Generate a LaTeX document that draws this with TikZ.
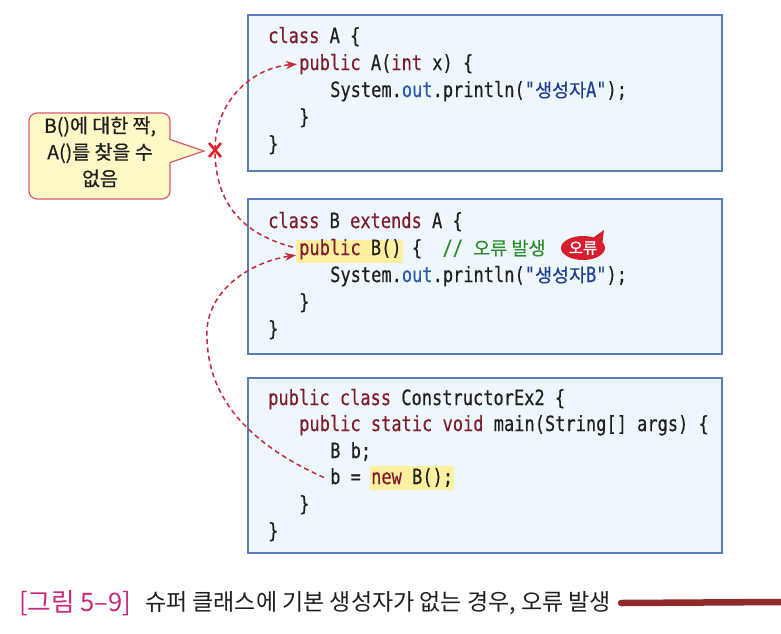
\documentclass[tikz,border=0pt]{standalone}
\usepackage{fontspec}
\usetikzlibrary{arrows.meta,shapes.geometric}
\newfontfamily\codefont[FakeStretch=0.81,FakeBold=0.35]{DejaVu Sans Mono}
\newfontfamily\krfont{Noto Sans CJK KR}
\newfontfamily\krcode[FakeBold=0.3]{Noto Sans CJK KR}
\newfontfamily\krbold[FakeBold=1.5]{Noto Sans CJK KR}
\newfontfamily\krmed[FakeBold=0.5]{Noto Sans CJK KR}
\definecolor{boxfill}{HTML}{EEF8FC}
\definecolor{boxline}{HTML}{5B7DBA}
\definecolor{kwc}{HTML}{7D1B2B}
\definecolor{outc}{HTML}{2B5BA8}
\definecolor{strc}{HTML}{1F3F8F}
\definecolor{cmtc}{HTML}{2D8A2D}
\definecolor{hlc}{HTML}{FCEFA0}
\definecolor{txtc}{HTML}{1E1E1E}
\definecolor{dashc}{HTML}{C8283C}
\definecolor{xc}{HTML}{E0202A}
\definecolor{bubfill}{HTML}{FFF9C8}
\definecolor{bubline}{HTML}{D65A78}
\definecolor{capc}{HTML}{C8287C}
\definecolor{brushc}{HTML}{8E2A2A}
\definecolor{badgec}{HTML}{D41E2E}
\newcommand\cKw[1]{\textcolor{kwc}{#1}}
\newcommand\cOut[1]{\textcolor{outc}{#1}}
\newcommand\cStr[1]{\textcolor{strc}{#1}}
\newcommand\cCmt[1]{\textcolor{cmtc}{#1}}
\newcommand\cKr[1]{{\krcode\fontsize{18.5}{20}\selectfont #1}}
\begin{document}
\begin{tikzpicture}[x=1pt,y=-1pt,
  code/.style={anchor=base west, inner sep=0pt, text=txtc,
    font=\codefont\fontsize{21}{24}\selectfont},
  codebox/.style={draw=boxline, fill=boxfill, line width=1.2pt, inner sep=0pt},
  dsh/.style={draw=dashc, line width=1.5pt, dash pattern=on 5pt off 3.5pt},
  tip/.style={-{Stealth[length=11pt,width=8pt]}},
  xmark/.style={draw=xc, line width=2.6pt},
  bubble/.style={draw=bubline, fill=bubfill, line width=1.2pt, rounded corners=8pt,
    minimum width=141pt, minimum height=86pt, inner sep=0pt},
  bubtext/.style={align=center, inner sep=0pt, text=txtc,
    font=\krmed\fontsize{19.5}{26.5}\selectfont},
  hl/.style={fill=hlc}
]
\useasboundingbox (0,0) rectangle (781,633);
\fill[white] (0,0) rectangle (781,633);

% code boxes
\node[codebox, minimum width=474pt, minimum height=156pt] (boxA) at (485,93) {};
\node[codebox, minimum width=474pt, minimum height=155pt] (boxB) at (485,276.5) {};
\node[codebox, minimum width=474pt, minimum height=175pt] (boxC) at (485,465.5) {};

% highlights
\fill[hl] (296,240) rectangle (403,263);
\fill[hl] (370,466) rectangle (454,490);

% box A
\node[code] (a1) at (268,43) {\cKw{class} A \{};
\node[code] (a2) at (299,70) {\cKw{public} A(\cKw{int} x) \{};
\node[code] (a3) at (330,97) {System.\cOut{out}.println(\cStr{"\cKr{생성자}A"});};
\node[code] (a4) at (299,124) {\}};
\node[code] (a5) at (268,151) {\}};

% box B
\node[code] (b1) at (268,228) {\cKw{class} B \cKw{extends} A \{};
\node[code] (b2) at (299,255) {\cKw{public} B() \{\ \ \cCmt{//\ \cKr{오류 발생}}};
\node[code] (b3) at (330,282) {System.\cOut{out}.println(\cStr{"\cKr{생성자}B"});};
\node[code] (b4) at (299,309) {\}};
\node[code] (b5) at (268,336) {\}};

% badge
\fill[badgec] (590,240) -- (604,230) -- (602,246) -- cycle;
\node[ellipse, fill=badgec, minimum width=44pt, minimum height=24pt, inner sep=0pt,
  text=white, font=\krbold\fontsize{15.5}{17}\selectfont] (badge) at (583,248) {오류};

% box C
\node[code] (c1) at (268,405) {\cKw{public} \cKw{class} ConstructorEx2 \{};
\node[code] (c2) at (299,431) {\cKw{public} \cKw{static} \cKw{void} main(String[] args) \{};
\node[code] (c3) at (330,458) {B b;};
\node[code] (c4) at (330,484) {b = \cKw{new} B();};
\node[code] (c5) at (299,511) {\}};
\node[code] (c6) at (268,538) {\}};

% callout bubble
\node[bubble] (bub) at (99.5,156) {};
\coordinate (btip) at (204,151);
\fill[bubfill] (167,139) -- (btip) -- (167,163) -- cycle;
\draw[bubline, line width=1.2pt] (170,139.5) -- (btip) -- (170,162.5);
\node[bubtext] (bubt) at (100,152) {B()에 대한 짝,\\A()를 찾을 수\\없음};

% dashed connectors
\coordinate (xm) at (215,150);
\draw[dsh, tip] ([shift={(-6,-2)}]b2.west) .. controls (250,236) and (215,210) .. (xm)
  .. controls (215,103) and (250,68) .. ([xshift=-2pt]a2.west);
\draw[dsh, tip] ([xshift=-6pt]c4.west) .. controls (240,440) and (205,390) .. (207,330)
  .. controls (209,290) and (250,262) .. ([shift={(-3,6)}]b2.west);

% X mark
\draw[xmark] ([shift={(-6,-7)}]xm) -- ([shift={(6,7)}]xm);
\draw[xmark] ([shift={(6,-7)}]xm) -- ([shift={(-6,7)}]xm);

% caption
\node[anchor=west, inner sep=0pt, text=capc, font=\krfont\fontsize{25.5}{28}\selectfont]
  (capnum) at (19,603) {[그림 5–9]};
\node[anchor=west, inner sep=0pt, text=txtc, font=\krfont\fontsize{23}{26}\selectfont]
  (captxt) at (145,603) {슈퍼 클래스에 기본 생성자가 없는 경우, 오류 발생};
\draw[brushc, line width=6.5pt, line cap=round] ([xshift=10pt]captxt.east) -- (781,602);
\end{tikzpicture}
\end{document}
